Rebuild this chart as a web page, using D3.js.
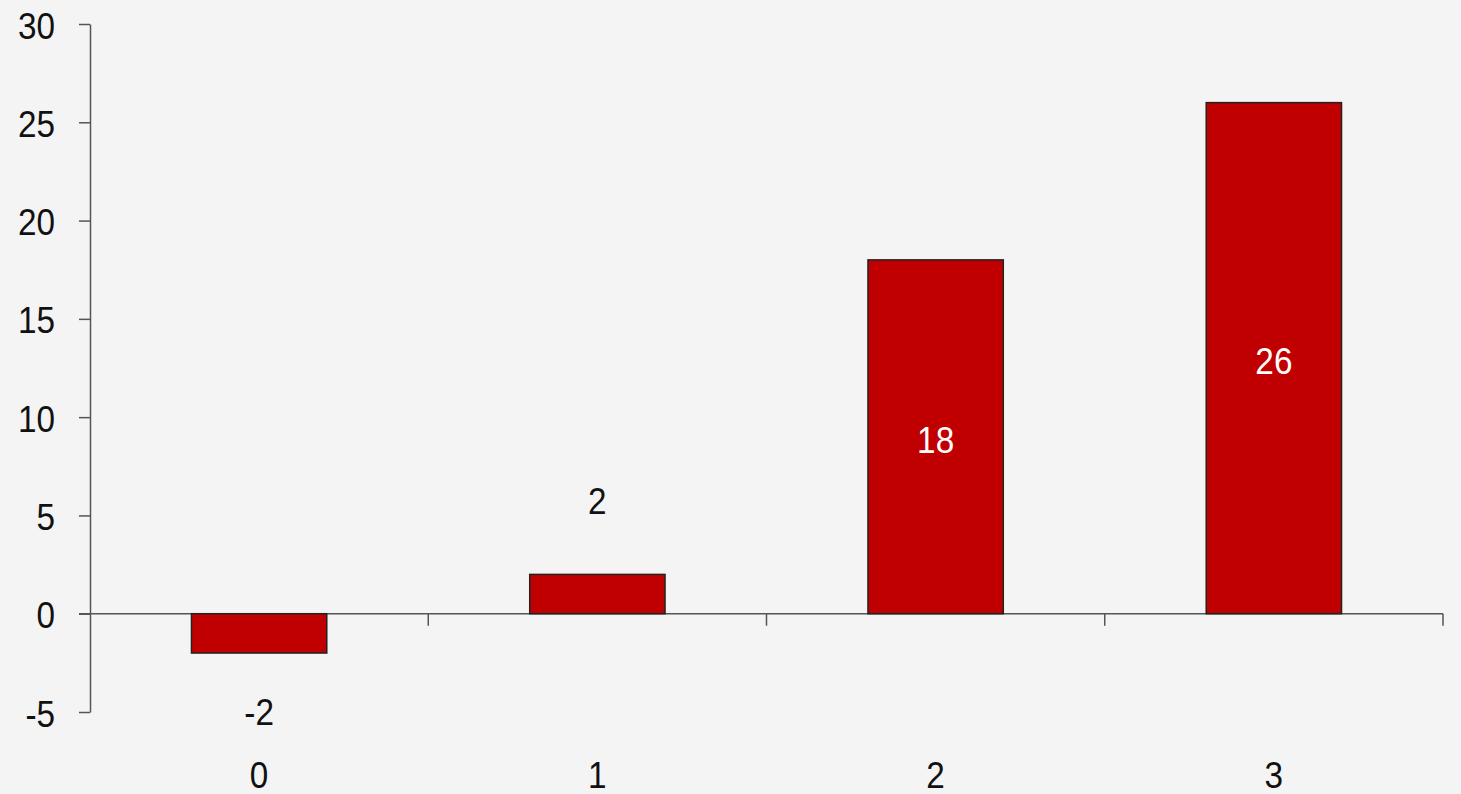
<!DOCTYPE html>
<html>
<head>
<meta charset="utf-8">
<script src="https://cdn.jsdelivr.net/npm/d3@7"></script>
<style>
  html, body { margin: 0; padding: 0; background: #f4f4f4; }
  svg { display: block; font-family: "Liberation Sans", Arial, sans-serif; }
</style>
</head>
<body>
<div id="chart"></div>
<script>
var categories = ["0", "1", "2", "3"];
var values = [-2, 2, 18, 26];
var yTicks = [-5, 0, 5, 10, 15, 20, 25, 30];

document.addEventListener("DOMContentLoaded", function() {

  var width = 1461, height = 794;
  var margin = {top: 24, right: 18, bottom: 82, left: 90};
  var fontSize = 37, squeeze = 0.9;   // text in the reference is a bit condensed

  var svg = d3.select("#chart")
    .append("svg")
      .attr("width", width)
      .attr("height", height);

  svg.append("rect")
    .attr("width", width)
    .attr("height", height)
    .attr("fill", "#f4f4f4");

  var x = d3.scaleBand()
    .domain(categories)
    .range([margin.left, width - margin.right])
    .paddingInner(0.6)
    .paddingOuter(0.3);

  var y = d3.scaleLinear()
    .domain([-5, 30])
    .range([height - margin.bottom, margin.top]);

  // put a squeezed label at (cx, cy)
  function place(sel, cx, cy) {
    sel.attr("x", 0).attr("y", 0)
      .attr("transform", function(d, i) {
        return "translate(" + cx(d, i) + "," + cy(d, i) + ") scale(" + squeeze + ",1)";
      });
  }

  // y axis
  var yAxis = svg.append("g")
    .attr("transform", "translate(" + margin.left + ",0)")
    .call(d3.axisLeft(y).tickValues(yTicks).tickSize(11).tickSizeOuter(0)
      .tickFormat(function(d) { return String(d); }));
  yAxis.select(".domain").attr("stroke", "#555").attr("stroke-width", 1.5);
  yAxis.selectAll(".tick line").attr("stroke", "#555").attr("stroke-width", 1.5);
  yAxis.selectAll(".tick text")
    .attr("fill", "#111")
    .attr("dy", null)
    .attr("dominant-baseline", "central")
    .style("font-size", fontSize + "px")
    .call(place, function() { return -35; }, function() { return 1; });

  // x axis at zero, ticks at band boundaries
  var step = x.step();
  var x0 = margin.left, x1 = width - margin.right;
  svg.append("line")
    .attr("x1", x0 - 11).attr("x2", x1)
    .attr("y1", y(0)).attr("y2", y(0))
    .attr("stroke", "#555").attr("stroke-width", 1.5);

  var bounds = categories.map(function(d, i) { return x0 + step * (i + 1); });
  svg.selectAll(".xtick")
    .data(bounds)
    .enter()
    .append("line")
      .attr("class", "xtick")
      .attr("x1", function(d) { return d; })
      .attr("x2", function(d) { return d; })
      .attr("y1", y(0))
      .attr("y2", y(0) + 12)
      .attr("stroke", "#555")
      .attr("stroke-width", 1.5);

  // category labels
  svg.selectAll(".cat")
    .data(categories)
    .enter()
    .append("text")
      .attr("class", "cat")
      .attr("text-anchor", "middle")
      .attr("dominant-baseline", "central")
      .attr("fill", "#111")
      .style("font-size", fontSize + "px")
      .text(function(d) { return d; })
      .call(place, function(d) { return x(d) + x.bandwidth() / 2; }, function() { return 775; });

  // bars
  var data = categories.map(function(c, i) { return {cat: c, value: values[i]}; });

  svg.selectAll(".bar")
    .data(data)
    .enter()
    .append("rect")
      .attr("class", "bar")
      .attr("x", function(d) { return x(d.cat); })
      .attr("y", function(d) { return y(Math.max(0, d.value)); })
      .attr("width", x.bandwidth())
      .attr("height", function(d) { return Math.abs(y(d.value) - y(0)); })
      .attr("fill", "#c00000")
      .attr("stroke", "#222")
      .attr("stroke-width", 1.5);

  // value labels
  svg.selectAll(".val")
    .data(data)
    .enter()
    .append("text")
      .attr("class", "val")
      .attr("text-anchor", "middle")
      .attr("dominant-baseline", "central")
      .attr("fill", function(d) { return d.value >= 5 ? "#fff" : "#111"; })
      .style("font-size", fontSize + "px")
      .text(function(d) { return d.value; })
      .call(place,
        function(d) { return x(d.cat) + x.bandwidth() / 2; },
        function(d) {
          if (d.value < 0) return y(d.value) + 59;
          if (d.value < 5) return y(d.value) - 74;
          return y(d.value / 2) + 3;
        });
});
</script>
</body>
</html>
